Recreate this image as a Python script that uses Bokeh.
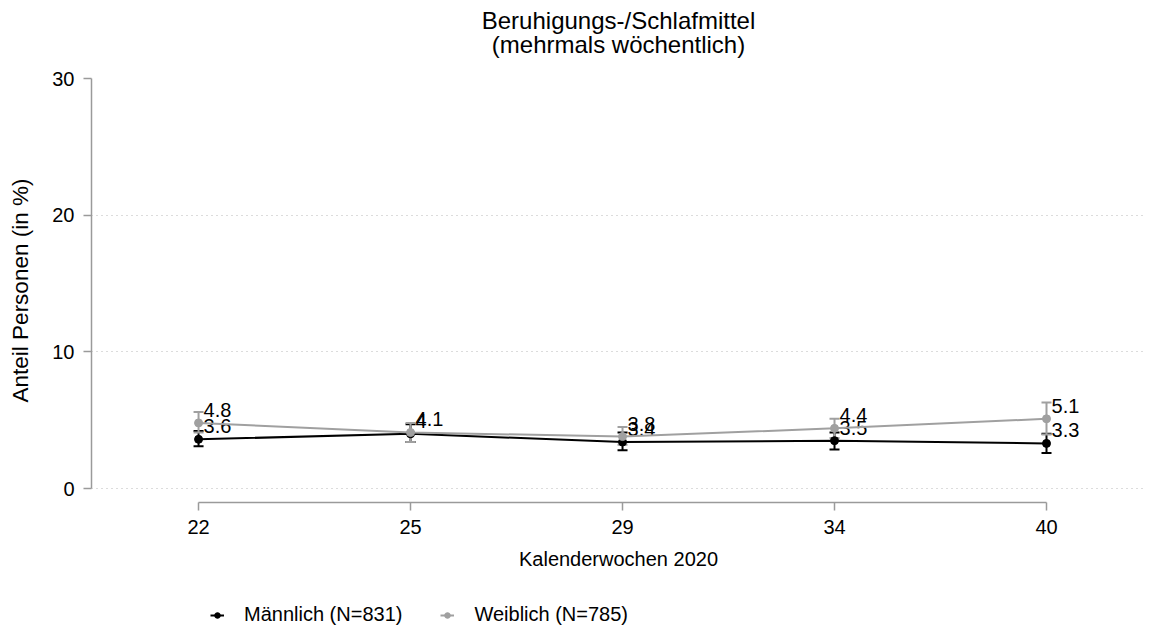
from bokeh.plotting import figure
from bokeh.layouts import column
from bokeh.models import (ColumnDataSource, Whisker, TeeHead, Legend, LegendItem,
                          Label, FixedTicker, Range1d)
from bokeh.embed import file_html
from bokeh.resources import INLINE

title_lines = ["Beruhigungs-/Schlafmittel", "(mehrmals wöchentlich)"]
weeks = ["22", "25", "29", "34", "40"]
male = [3.6, 4.0, 3.4, 3.5, 3.3]
male_lo = [3.1, 3.4, 2.8, 2.85, 2.6]
male_hi = [4.2, 4.7, 4.1, 4.1, 4.0]
male_lbl = ["3.6", "4", "3.4", "3.5", "3.3"]
female = [4.8, 4.1, 3.8, 4.4, 5.1]
female_lo = [4.1, 3.4, 3.2, 3.7, 3.95]
female_hi = [5.6, 4.8, 4.5, 5.1, 6.3]
female_lbl = ["4.8", "4.1", "3.8", "4.4", "5.1"]
y_ticks = [0, 10, 20, 30]

FONT = "Liberation Sans"
BLACK = "#000000"
GREY = "#a0a0a0"
AXC = "#9a9a9a"

xs = list(range(len(weeks)))

# header strip with the two title lines (frame aligned with the chart frame)
hd = figure(width=1145, height=68, output_backend="svg", toolbar_location=None,
            x_range=Range1d(0, 1), y_range=Range1d(0, 68),
            min_border_left=0, min_border_right=0, min_border_top=0,
            min_border_bottom=0, title=None)
hd.axis.visible = False
hd.grid.visible = False
hd.outline_line_color = None
for txt, yy in zip(title_lines, (48, 24)):
    hd.add_layout(Label(x=0.5, y=yy, text=txt, text_align="center",
                        text_baseline="middle", text_font=FONT,
                        text_font_size="24px", text_color=BLACK))

p = figure(width=1145, height=512, output_backend="svg", toolbar_location=None,
           x_range=Range1d(-0.505, 4.467), y_range=Range1d(-1.024, 30),
           min_border_left=91, min_border_right=0, min_border_top=10,
           min_border_bottom=78, title=None)
p.outline_line_color = None
p.background_fill_color = "white"

# axes
p.xaxis.ticker = FixedTicker(ticks=xs)
p.xaxis.major_label_overrides = {i: w for i, w in enumerate(weeks)}
p.xaxis.bounds = (0, len(weeks) - 1)
p.yaxis.ticker = FixedTicker(ticks=y_ticks)
p.yaxis.bounds = (0, 30)
for ax in (p.xaxis, p.yaxis):
    ax.axis_line_color = AXC
    ax.axis_line_width = 1.5
    ax.major_tick_line_color = AXC
    ax.major_tick_line_width = 1.5
    ax.major_tick_out = 8
    ax.major_tick_in = 0
    ax.minor_tick_line_color = None
    ax.major_label_text_font = FONT
    ax.major_label_text_font_size = "20px"
    ax.major_label_text_color = BLACK
    ax.axis_label_text_font = FONT
    ax.axis_label_text_font_style = "normal"
    ax.axis_label_text_color = BLACK
p.xaxis.axis_label = "Kalenderwochen 2020"
p.xaxis.axis_label_text_font_size = "20px"
p.xaxis.major_label_standoff = 9
p.xaxis.axis_label_standoff = 11
p.yaxis.axis_label = "Anteil Personen (in %)"
p.yaxis.axis_label_text_font_size = "22.5px"
p.yaxis.major_label_standoff = 9
p.yaxis.axis_label_standoff = 16
p.yaxis.major_label_orientation = "horizontal"

p.xgrid.grid_line_color = None
p.ygrid.grid_line_color = "#b8b8b8"
p.ygrid.grid_line_dash = "1 4"
p.ygrid.grid_line_width = 1

src_m = ColumnDataSource(dict(x=xs, y=male, lo=male_lo, hi=male_hi, lbl=male_lbl))
src_f = ColumnDataSource(dict(x=xs, y=female, lo=female_lo, hi=female_hi, lbl=female_lbl))

for src, col in ((src_m, BLACK), (src_f, GREY)):
    w = Whisker(base="x", upper="hi", lower="lo", source=src, dimension="height",
                line_color=col, line_width=2,
                upper_head=TeeHead(size=10, line_color=col, line_width=2),
                lower_head=TeeHead(size=10, line_color=col, line_width=2))
    p.add_layout(w)
    p.line("x", "y", source=src, line_color=col, line_width=2)
    p.scatter("x", "y", source=src, size=8, fill_color=col, line_color=col)
    p.text("x", "y", text="lbl", source=src, x_offset=5, y_offset=-13,
           text_baseline="middle", text_align="left", text_font_size="20px",
           text_color=BLACK, text_font={"value": FONT})

# legend in its own strip below the chart
lg = figure(width=1145, height=48, output_backend="svg", toolbar_location=None,
            x_range=Range1d(-0.505, 4.467), y_range=Range1d(100, 101),
            min_border_left=0, min_border_right=0, min_border_top=0,
            min_border_bottom=0, title=None)
lg.axis.visible = False
lg.grid.visible = False
lg.outline_line_color = None
items = []
for lbl, src, col in (("Männlich (N=831)", src_m, BLACK), ("Weiblich (N=785)", src_f, GREY)):
    ln = lg.line("x", "y", source=src, line_color=col, line_width=2)
    sc = lg.scatter("x", "y", source=src, size=7, fill_color=col, line_color=col)
    items.append(LegendItem(label=lbl, renderers=[ln, sc]))
legend = Legend(items=items, orientation="horizontal", location=(119, 2),
                label_text_font=FONT, label_text_font_size="20px",
                label_text_color=BLACK, border_line_color=None,
                background_fill_alpha=0, glyph_width=14, glyph_height=20,
                spacing=38, label_standoff=20, padding=0, margin=0)
lg.add_layout(legend, "center")

open("out.html", "w").write(file_html(column(hd, p, lg, spacing=0), INLINE))
